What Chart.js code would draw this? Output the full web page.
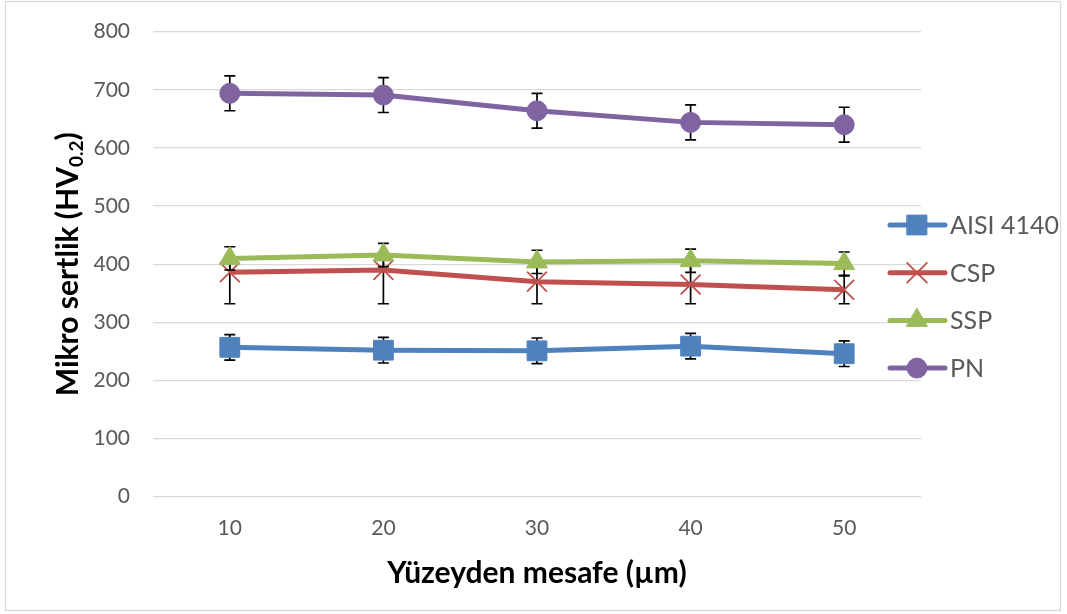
<!DOCTYPE html>
<html>
<head>
<meta charset="utf-8">
<script src="https://cdn.jsdelivr.net/npm/chart.js@4.4.1/dist/chart.umd.min.js"></script>
<style>
  html, body { margin: 0; padding: 0; background: #ffffff; }
  #wrap { width: 1067px; height: 614px; position: relative; }
</style>
</head>
<body>
<div id="wrap"><canvas id="c" width="1067" height="614"></canvas></div>
<script>
// Distance from surface (µm)
const categories = ['10', '20', '30', '40', '50'];

// Micro-hardness values (HV0.2) per treatment
const aisi = [257, 252, 251, 259, 246];
const csp  = [386, 390, 370, 365, 356];
const ssp  = [410, 416, 404, 406, 401];
const pn   = [694, 691, 664, 644, 640];

// Error bar half-lengths (upper / lower)
const aisiErrUp  = [22, 22, 22, 22, 22];
const aisiErrLow = [22, 22, 22, 22, 22];
const cspErrUp   = [20, 20, 38, 33, 24];
const cspErrLow  = [54, 58, 38, 33, 24];
const sspErrUp   = [20, 20, 20, 20, 20];
const sspErrLow  = [20, 20, 20, 20, 20];
const pnErrUp    = [30, 30, 30, 30, 30];
const pnErrLow   = [30, 30, 30, 30, 30];

const yTicks = [0, 100, 200, 300, 400, 500, 600, 700, 800];

const FONT = 'Lato, "Liberation Sans", sans-serif';

const errorBars = {
  id: 'errorBars',
  beforeDatasetDraw(chart, args) {
    const ds = chart.data.datasets[args.index];
    if (!ds.errUp) return;
    const ys = chart.scales.y;
    const ctx = chart.ctx;
    ctx.save();
    ctx.strokeStyle = '#000000';
    ctx.lineWidth = 1.7;
    args.meta.data.forEach((pt, i) => {
      const x = pt.x;
      const top = ys.getPixelForValue(ds.data[i] + ds.errUp[i]);
      const bot = ys.getPixelForValue(ds.data[i] - ds.errLow[i]);
      ctx.beginPath();
      ctx.moveTo(x, top); ctx.lineTo(x, bot);
      ctx.moveTo(x - 5.5, top); ctx.lineTo(x + 5.5, top);
      ctx.moveTo(x - 5.5, bot); ctx.lineTo(x + 5.5, bot);
      ctx.stroke();
    });
    ctx.restore();
  }
};

const frame = {
  id: 'frame',
  beforeDraw(chart) {
    const ctx = chart.ctx;
    ctx.save();
    ctx.fillStyle = '#ffffff';
    ctx.fillRect(0, 0, chart.width, chart.height);
    ctx.strokeStyle = '#d9d9d9';
    ctx.lineWidth = 1.3;
    ctx.strokeRect(5.5, 1.5, 1055, 609);
    ctx.restore();
  }
};

const yTitle = {
  id: 'yTitle',
  afterDraw(chart) {
    const ctx = chart.ctx;
    const main = 'Mikro sertlik (HV';
    const sub = '0.2';
    const close = ')';
    const bigFont = 'bold 30px ' + FONT;
    const subFont = 'bold 19px ' + FONT;
    ctx.save();
    ctx.font = bigFont;
    const w1 = ctx.measureText(main).width;
    const w3 = ctx.measureText(close).width;
    ctx.font = subFont;
    const w2 = ctx.measureText(sub).width;
    const total = w1 + w2 + w3;
    const area = chart.chartArea;
    ctx.translate(68, (area.top + area.bottom) / 2);
    ctx.rotate(-Math.PI / 2);
    ctx.fillStyle = '#000000';
    ctx.textBaseline = 'alphabetic';
    ctx.textAlign = 'left';
    let x = -total / 2;
    const base = 10;
    ctx.font = bigFont;
    ctx.fillText(main, x, base);
    x += w1;
    ctx.font = subFont;
    ctx.fillText(sub, x, base + 5);
    x += w2;
    ctx.font = bigFont;
    ctx.fillText(close, x, base);
    ctx.restore();
  }
};

const sideLegend = {
  id: 'sideLegend',
  afterDraw(chart) {
    const ctx = chart.ctx;
    const y0 = 225, dy = 47.7;
    const x1 = 890, x2 = 945, xm = 917, xt = 950;
    chart.data.datasets.forEach((ds, k) => {
      const y = y0 + k * dy;
      ctx.save();
      ctx.strokeStyle = ds.borderColor;
      ctx.lineWidth = ds.borderWidth;
      ctx.lineCap = 'round';
      ctx.beginPath();
      ctx.moveTo(x1, y); ctx.lineTo(x2, y);
      ctx.stroke();
      ctx.fillStyle = ds.pointBackgroundColor;
      ctx.strokeStyle = ds.pointBorderColor;
      ctx.lineWidth = ds.pointBorderWidth;
      Chart.helpers.drawPoint(ctx, {
        pointStyle: ds.pointStyle,
        radius: ds.pointRadius,
        rotation: 0,
        borderWidth: ds.pointBorderWidth
      }, xm, y);
      ctx.fillStyle = '#595959';
      ctx.font = '25px ' + FONT;
      ctx.textBaseline = 'middle';
      ctx.textAlign = 'left';
      ctx.fillText(ds.label, xt, y + 1);
      ctx.restore();
    });
  }
};

function series(label, data, up, low, color, style, radius, order, extra) {
  return Object.assign({
    label: label,
    data: data,
    errUp: up,
    errLow: low,
    borderColor: color,
    backgroundColor: color,
    borderWidth: 5,
    pointStyle: style,
    pointRadius: radius,
    pointHoverRadius: radius,
    pointBackgroundColor: color,
    pointBorderColor: color,
    pointBorderWidth: 1,
    tension: 0,
    order: order
  }, extra || {});
}

const datasets = [
  series('AISI 4140', aisi, aisiErrUp, aisiErrLow, '#4f81bd', 'rect', 14, 4),
  series('CSP', csp, cspErrUp, cspErrLow, '#c0504d', 'crossRot', 14, 3, { pointBorderWidth: 1.8 }),
  series('SSP', ssp, sspErrUp, sspErrLow, '#9bbb59', 'triangle', 12, 2),
  series('PN', pn, pnErrUp, pnErrLow, '#8064a2', 'circle', 10, 1)
];

new Chart(document.getElementById('c'), {
  type: 'line',
  data: { labels: categories, datasets: datasets },
  options: {
    responsive: false,
    animation: false,
    devicePixelRatio: 1,
    layout: { padding: { left: 0, top: 31.7, right: 146, bottom: 0 } },
    plugins: {
      legend: { display: false },
      tooltip: { enabled: false },
      title: { display: false }
    },
    scales: {
      x: {
        type: 'category',
        offset: true,
        grid: { display: false, drawTicks: false },
        border: { display: false },
        ticks: {
          color: '#595959',
          font: { family: FONT, size: 21 },
          padding: 19
        },
        title: {
          display: true,
          text: 'Yüzeyden mesafe (µm)',
          color: '#000000',
          font: { family: FONT, size: 30, weight: 'bold' },
          padding: { top: 0, bottom: 23 }
        },
        afterFit(scale) { scale.height = 117.3; }
      },
      y: {
        min: 0,
        max: 800,
        afterBuildTicks(scale) { scale.ticks = yTicks.map(v => ({ value: v })); },
        grid: { color: '#d9d9d9', lineWidth: 1.3, drawTicks: false },
        border: { display: false },
        ticks: {
          color: '#595959',
          font: { family: FONT, size: 21, lineHeight: 0.5 },
          padding: 23
        },
        afterFit(scale) { scale.width = 153; }
      }
    }
  },
  plugins: [frame, errorBars, yTitle, sideLegend]
});
</script>
</body>
</html>
